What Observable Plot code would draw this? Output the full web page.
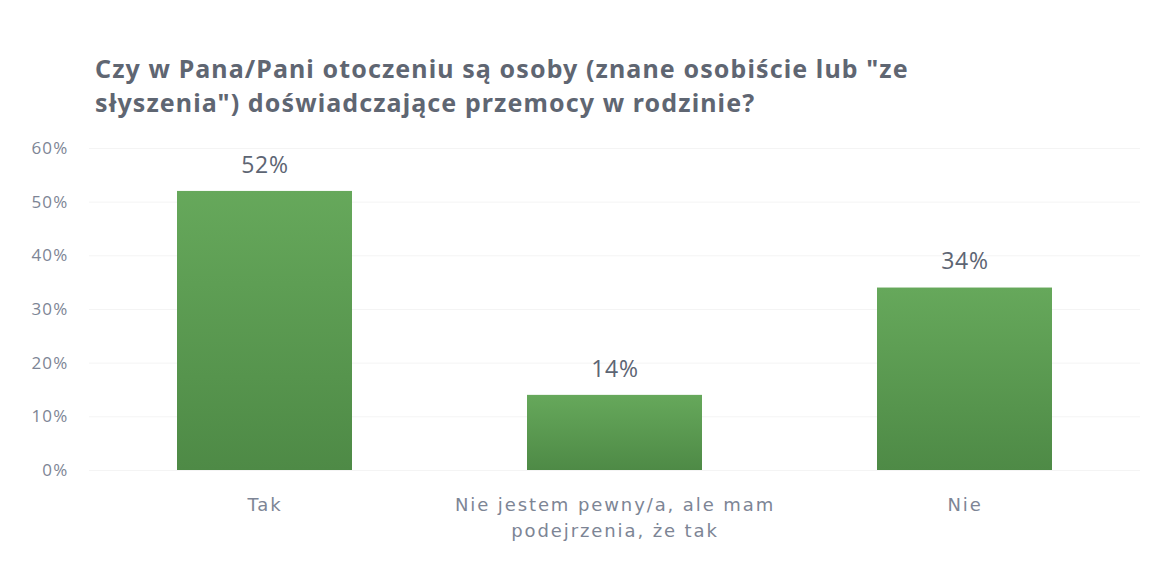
<!DOCTYPE html>
<html><head><meta charset="utf-8">
<script src="https://cdn.jsdelivr.net/npm/d3@7"></script>
<script src="https://cdn.jsdelivr.net/npm/@observablehq/plot@0.6"></script>
<style>
body{margin:0;background:#fff;width:1168px;height:564px;overflow:hidden;font-family:"Open Sans",sans-serif;}
#title{height:130px;box-sizing:border-box;padding:51px 0 0 95px;font-family:"Noto Sans",sans-serif;font-weight:700;font-size:25px;line-height:34px;color:#5f6672;letter-spacing:1.1px;white-space:nowrap;}
g[aria-label="x-axis tick label"] text{letter-spacing:1.9px;}
g[aria-label="y-axis tick label"] text{letter-spacing:1.2px;}
g[aria-label="text"] text{letter-spacing:0.8px;}
</style></head>
<body>
<div id="title">Czy w Pana/Pani otoczeniu są osoby (znane osobiście lub "ze<br>słyszenia") doświadczające przemocy w rodzinie?</div>
<div id="chart"></div>
<script>
const categories = ["Tak", "Nie jestem pewny/a, ale mam\npodejrzenia, że tak", "Nie"];
const values = [0.52, 0.14, 0.34];
const yTicks = [0, 0.1, 0.2, 0.3, 0.4, 0.5, 0.6];
const data = categories.map((c, i) => ({category: c, value: values[i]}));

const plot = Plot.plot({
  width: 1168,
  height: 434,
  marginTop: 18,
  marginBottom: 94,
  marginLeft: 89,
  marginRight: 28,
  style: {fontFamily: "Open Sans, sans-serif", background: "transparent"},
  x: {domain: categories, paddingInner: 0.5, paddingOuter: 0.25, label: null},
  y: {domain: [0, 0.6], ticks: yTicks, label: null},
  marks: [
    () => {
      const ns = "http://www.w3.org/2000/svg";
      const defs = document.createElementNS(ns, "defs");
      defs.innerHTML = `<linearGradient id="barGrad" x1="0" y1="0" x2="0" y2="1">
        <stop offset="0" stop-color="#66a85b"/><stop offset="1" stop-color="#4e8a46"/></linearGradient>`;
      return defs;
    },
    Plot.gridY(yTicks, {stroke: "#f4f4f4", strokeOpacity: 1}),
    Plot.barY(data, {x: "category", y: "value", fill: "url(#barGrad)"}),
    Plot.text(data, {x: "category", y: "value", text: d => Math.round(d.value * 100) + "%", dy: -26, fontSize: 23, fill: "#5d6573"}),
    Plot.axisY({ticks: yTicks, tickFormat: d => Math.round(d * 100) + "%", tickSize: 0, tickPadding: 21, fontSize: 17, color: "#7d8595"}),
    Plot.axisX({tickSize: 0, tickPadding: 23, fontSize: 18, fontFamily: "DejaVu Sans, sans-serif", color: "#7d8595", lineHeight: 1.4})
  ]
});
document.getElementById("chart").appendChild(plot);
</script>
</body></html>
